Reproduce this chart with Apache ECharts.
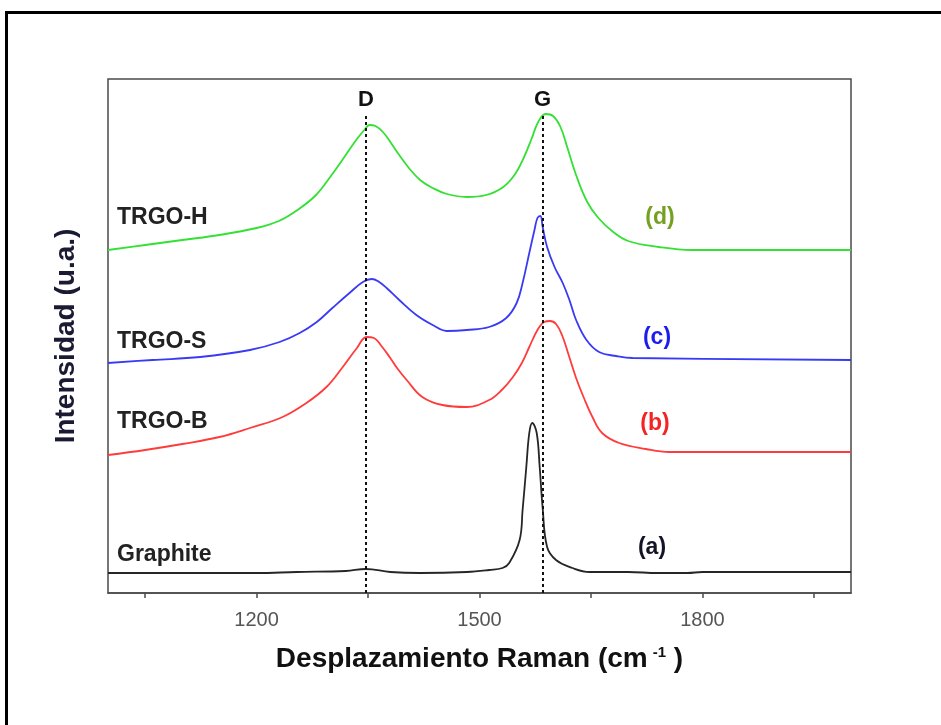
<!DOCTYPE html>
<html>
<head>
<meta charset="utf-8">
<script src="https://cdn.jsdelivr.net/npm/echarts@6/dist/echarts.min.js"></script>
<style>
  html, body { margin: 0; padding: 0; background: #fff; }
  #chart { width: 941px; height: 725px; }
</style>
</head>
<body>
<div id="chart"></div>
<script>
  // Raman shift (cm-1), intensity in arbitrary units (offset spectra)
  const graphite = [
    [1000, 20], [1200, 20], [1254, 21], [1320, 22], [1347, 24], [1380, 21], [1420, 20],
    [1483, 21], [1513, 23], [1531, 25], [1540, 30], [1554, 53], [1558, 83], [1563, 126],
    [1567, 160], [1571, 170], [1577, 160], [1581, 126], [1585, 85], [1591, 46], [1603, 33],
    [1625, 25], [1648, 21], [1700, 21], [1740, 20], [1780, 20], [1800, 21], [2000, 21]
  ]
  const trgoB = [
    [1000, 138], [1050, 143], [1100, 149], [1150, 156], [1191, 165], [1235, 176], [1267, 190],
    [1294, 206], [1316, 226], [1335, 245], [1348, 256], [1358, 255], [1368, 247], [1379, 236],
    [1390, 224], [1402, 213], [1423, 196], [1450, 188], [1483, 186], [1513, 193], [1530, 203],
    [1545, 216], [1557, 230], [1567, 246], [1578, 263], [1587, 271], [1595, 272], [1603, 269],
    [1611, 258], [1620, 238], [1630, 215], [1640, 196], [1652, 176], [1665, 160], [1688, 150],
    [1724, 144], [1755, 141], [2000, 141]
  ]
  const trgoS = [
    [1000, 230], [1060, 233], [1124, 236], [1191, 243], [1231, 251], [1258, 260], [1281, 271],
    [1302, 285], [1325, 300], [1343, 311], [1355, 314], [1365, 311], [1375, 305], [1392, 293],
    [1415, 278], [1437, 268], [1456, 262], [1483, 263], [1513, 266], [1536, 275], [1550, 290],
    [1558, 310], [1567, 340], [1574, 363], [1578, 375], [1582, 377], [1585, 366], [1591, 346],
    [1601, 326], [1612, 310], [1621, 293], [1630, 273], [1644, 253], [1661, 241], [1684, 237],
    [1706, 235], [2000, 233]
  ]
  const trgoH = [
    [1000, 343], [1050, 348], [1100, 353], [1150, 358], [1200, 365], [1230, 372], [1255, 383],
    [1280, 398], [1300, 417], [1320, 438], [1335, 454], [1345, 463], [1352, 468], [1360, 467],
    [1370, 461], [1380, 451], [1392, 438], [1405, 425], [1420, 413], [1437, 405], [1456, 399],
    [1483, 396], [1509, 398], [1532, 406], [1548, 419], [1560, 436], [1570, 454], [1579, 471],
    [1589, 479], [1599, 477], [1609, 466], [1618, 446], [1630, 418], [1645, 391], [1660, 375],
    [1680, 361], [1700, 352], [1741, 346], [1786, 343], [2000, 343]
  ]
  const tickValues = [1050, 1200, 1350, 1500, 1650, 1800, 1950]
  const labelValues = [1200, 1500, 1800]
  const bandNames = ['D', 'G']
  const bandPositions = [1347, 1585]
  const bandTop = 478

  const font = '"Liberation Sans", Arial, sans-serif'
  const chart = echarts.init(document.getElementById('chart'))

  function line(data, color) {
    return {
      type: 'line',
      data: data,
      showSymbol: false,
      symbol: 'none',
      smooth: 0.4,
      lineStyle: { color: color, width: 1.8 },
      silent: true,
    }
  }

  const seriesList = [
    line(graphite, '#262626'),
    line(trgoB, '#ff3b3b'),
    line(trgoS, '#3a3af5'),
    line(trgoH, '#33e033'),
  ]
  // dotted D / G guides
  seriesList[0].markLine = {
    silent: true,
    symbol: 'none',
    animation: false,
    lineStyle: { color: '#111', type: [3, 3], width: 2 },
    label: {
      show: true,
      position: 'end',
      distance: 4,
      fontFamily: font,
      fontWeight: 'bold',
      fontSize: 22,
      color: '#111',
      formatter: (p) => p.name,
    },
    data: bandNames.map((n, i) => [
      { name: n, coord: [bandPositions[i], 0] },
      { coord: [bandPositions[i], bandTop] },
    ]),
  }

  function tag(text, x, y, color, align) {
    return {
      type: 'text',
      x: x,
      y: y,
      style: {
        text: text,
        fill: color,
        font: 'bold 23px ' + font,
        textAlign: align || 'left',
        textVerticalAlign: 'middle',
      },
    }
  }

  chart.setOption({
    animation: false,
    backgroundColor: '#fff',
    grid: {
      left: 108, right: 90, top: 79, bottom: 132,
      show: true,
      borderColor: '#4a4a4a',
      borderWidth: 1.5,
      outerBoundsMode: 'none',
    },
    xAxis: {
      type: 'value',
      min: 1000,
      max: 2000,
      name: '{t|Desplazamiento Raman (cm}{s|-1}{t| )}',
      nameLocation: 'middle',
      nameGap: 52,
      nameTextStyle: {
        rich: {
          t: { fontFamily: font, fontWeight: 'bold', fontSize: 28, color: '#111' },
          s: { fontFamily: font, fontWeight: 'bold', fontSize: 15, color: '#111', verticalAlign: 'top', padding: [0, 0, 14, 5] },
        },
      },
      axisLine: { show: true, onZero: false, lineStyle: { color: '#4a4a4a', width: 1.5 } },
      axisTick: { show: true, inside: false, length: 5, customValues: tickValues, lineStyle: { color: '#4a4a4a', width: 1.5 } },
      axisLabel: {
        customValues: labelValues,
        margin: 17,
        fontFamily: font,
        fontSize: 20,
        color: '#555',
        formatter: (v) => String(v),
      },
      splitLine: { show: false },
    },
    yAxis: {
      type: 'value',
      min: 0,
      max: 514,
      name: 'Intensidad (u.a.)',
      nameLocation: 'middle',
      nameGap: 28,
      nameTextStyle: { fontFamily: font, fontWeight: 'bold', fontSize: 28, color: '#1a1a33' },
      axisLine: { show: false },
      axisTick: { show: false },
      axisLabel: { show: false },
      splitLine: { show: false },
    },
    graphic: [
      {
        type: 'rect',
        shape: { x: 6.5, y: 12.5, width: 1000, height: 800 },
        style: { fill: 'none', stroke: '#000', lineWidth: 3 },
        silent: true,
      },
      tag('TRGO-H', 117, 218, '#222'),
      tag('TRGO-S', 117, 342, '#222'),
      tag('TRGO-B', 117, 422, '#222'),
      tag('Graphite', 117, 555, '#222'),
      tag('(d)', 660, 218, '#76a021', 'center'),
      tag('(c)', 657, 338, '#1c1cf0', 'center'),
      tag('(b)', 655, 424, '#f22424', 'center'),
      tag('(a)', 652, 548, '#141428', 'center'),
    ],
    series: seriesList,
  })
</script>
</body>
</html>
